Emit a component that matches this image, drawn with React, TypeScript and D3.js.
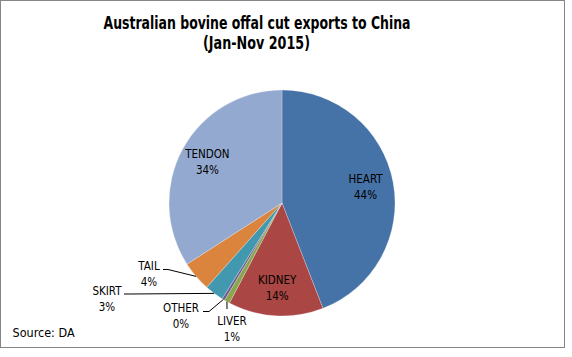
import React from "react";
import * as d3 from "d3";

const categories = ["HEART", "KIDNEY", "LIVER", "OTHER", "SKIRT", "TAIL", "TENDON"];
const shares = [44.1, 13.6, 0.8, 0.4, 2.7, 4.3, 34.1];
const percentLabels = ["44%", "14%", "1%", "0%", "3%", "4%", "34%"];
const colors = ["#4572A7", "#AA4643", "#89A54E", "#71588F", "#4198AF", "#DB843D", "#93A9CF"];
const titleLines = ["Australian bovine offal cut exports to China", "(Jan-Nov 2015)"];
const sourceText = "Source: DA";

const W = 572;
const H = 357;
const cx = 282;
const cy = 203;
const R = 113;
const FONT = "'DejaVu Sans Condensed', 'Liberation Sans', sans-serif";

// outside label layout: label centre, elbow point, horizontal end point
const outside: Record<string, { lx: number; ly: number; elbow: [number, number]; end: [number, number] }> = {
  LIVER: { lx: 232, ly: 321, elbow: [227, 309], end: [227, 309] },
  OTHER: { lx: 181, ly: 308, elbow: [209, 311.5], end: [203, 311.5] },
  SKIRT: { lx: 107, ly: 291, elbow: [130, 294], end: [124, 294] },
  TAIL: { lx: 149, ly: 266, elbow: [168, 269.5], end: [163, 269.5] },
};

export default function App() {
  const pie = d3.pie<number>().sort(null).value((d) => d);
  const arcs = pie(shares);
  const arc = d3.arc<d3.PieArcDatum<number>>().innerRadius(0).outerRadius(R);

  const pointAt = (a: number, r: number): [number, number] => [Math.sin(a) * r, -Math.cos(a) * r];

  return (
    <svg width={W} height={H} style={{ position: "absolute", left: 0, top: 0 }} fontFamily={FONT}>
      <rect x={0} y={0} width={W} height={H} fill="#fff" />
      <rect x={0.5} y={0.5} width={564} height={347} fill="#fff" stroke="#868686" strokeWidth={1} />
      <text x={257} y={28.5} textAnchor="middle" fontSize={17} fontWeight="bold" fill="#000"
        textLength={307} lengthAdjust="spacingAndGlyphs">{titleLines[0]}</text>
      <text x={256.5} y={48.5} textAnchor="middle" fontSize={17} fontWeight="bold" fill="#000"
        textLength={107} lengthAdjust="spacingAndGlyphs">{titleLines[1]}</text>
      <g transform={`translate(${cx},${cy})`}>
        {arcs.map((a, i) => (
          <path key={categories[i]} d={arc(a) || ""} fill={colors[i]} stroke="#ffffff" strokeOpacity={0.5} strokeWidth={0.5} />
        ))}
      </g>
      {arcs.map((a, i) => {
        const name = categories[i];
        const mid = (a.startAngle + a.endAngle) / 2;
        const lay = outside[name];
        if (!lay) {
          const [px, py] = pointAt(mid, 85);
          const x = cx + px;
          const y = cy + py;
          return (
            <g key={name} fontSize={11.5} fill="#000" textAnchor="middle">
              <text x={x} y={y - 4}>{name}</text>
              <text x={x} y={y + 12}>{percentLabels[i]}</text>
            </g>
          );
        }
        const [sx, sy] = pointAt(mid, R);
        const pts: [number, number][] = [[cx + sx, cy + sy], lay.elbow, lay.end];
        return (
          <g key={name}>
            <path d={d3.line()(pts) || ""} fill="none" stroke="#000" strokeWidth={1} />
            <g fontSize={11.5} fill="#000" textAnchor="middle">
              <text x={lay.lx} y={lay.ly + 4}>{name}</text>
              <text x={lay.lx} y={lay.ly + 20}>{percentLabels[i]}</text>
            </g>
          </g>
        );
      })}
      <text x={12.5} y={337} fontSize={12.5} fill="#000">{sourceText}</text>
    </svg>
  );
}
